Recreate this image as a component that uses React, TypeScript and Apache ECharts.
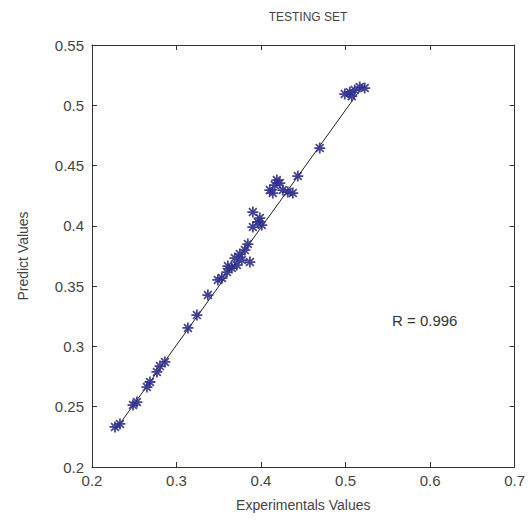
import React, { useEffect, useRef } from "react";
import * as echarts from "echarts";

const experimental = [
  0.2272, 0.2331, 0.2485, 0.2532, 0.265, 0.2686, 0.2768, 0.2804, 0.2863,
  0.3135, 0.3241, 0.3371, 0.3489, 0.3537, 0.3596, 0.3608, 0.3655, 0.369,
  0.3714, 0.3749, 0.3773, 0.3809, 0.3844, 0.3868, 0.3903, 0.3903, 0.3962,
  0.3986, 0.4009, 0.4104, 0.4139, 0.4163, 0.4187, 0.4222, 0.4258, 0.4317,
  0.4376, 0.4435, 0.4695, 0.4991, 0.505, 0.5073, 0.5109, 0.5168, 0.5227,
];
const predicted = [
  0.2332, 0.2357, 0.2514, 0.2539, 0.2663, 0.2705, 0.2788, 0.2837, 0.2871,
  0.3153, 0.326, 0.3426, 0.3551, 0.3567, 0.3617, 0.3667, 0.365, 0.3733,
  0.3675, 0.3766, 0.3716, 0.3799, 0.3849, 0.37, 0.399, 0.4114, 0.4032,
  0.4065, 0.4007, 0.4297, 0.4272, 0.4338, 0.438, 0.4355, 0.4297, 0.428,
  0.4272, 0.4413, 0.4645, 0.5093, 0.5109, 0.5076, 0.5126, 0.5151, 0.5143,
];
const fitX = [0.228, 0.52];
const fitY = [0.231, 0.5155];
const xTicks = { min: 0.2, max: 0.7, interval: 0.1 };
const yTicks = { min: 0.2, max: 0.55, interval: 0.05 };

const STAR =
  "path://M0 4.2L10 4.2L10 5.8L0 5.8Z M4.2 0L5.8 0L5.8 10L4.2 10Z M0.9 2.0L2.0 0.9L9.1 8.0L8.0 9.1Z M8.0 0.9L9.1 2.0L2.0 9.1L0.9 8.0Z";

export default function App() {
  const ref = useRef<HTMLDivElement>(null);
  useEffect(() => {
    if (!ref.current) return;
    const chart = echarts.init(ref.current, null, { renderer: "svg" });
    const font = "Liberation Sans, Arial, sans-serif";
    const axisLine = { show: true, lineStyle: { color: "#333", width: 1 } };
    const tick = { show: true, inside: true, length: 5, lineStyle: { color: "#333" } };
    const label = { color: "#444", fontSize: 15, fontFamily: font };
    chart.setOption({
      animation: false,
      backgroundColor: "#fff",
      title: {
        text: "TESTING SET",
        left: 303,
        textAlign: "center",
        top: 6,
        textStyle: { color: "#444", fontSize: 12, fontWeight: "normal", fontFamily: font },
      },
      grid: { left: 92, top: 45, width: 423, height: 422, containLabel: false },
      xAxis: [
        {
          type: "value",
          ...xTicks,
          position: "bottom",
          axisLine,
          axisTick: tick,
          splitLine: { show: false },
          axisLabel: { ...label, margin: 6 },
          name: "Experimentals Values",
          nameLocation: "middle",
          nameGap: 31,
          nameTextStyle: { color: "#444", fontSize: 14, fontFamily: font },
        },
        {
          type: "value",
          ...xTicks,
          position: "top",
          axisLine,
          axisTick: tick,
          splitLine: { show: false },
          axisLabel: { show: false },
        },
      ],
      yAxis: [
        {
          type: "value",
          ...yTicks,
          position: "left",
          axisLine,
          axisTick: tick,
          splitLine: { show: false },
          axisLabel: { ...label, margin: 8 },
          name: "Predict Values",
          nameLocation: "middle",
          nameGap: 62,
          nameRotate: 90,
          nameTextStyle: { color: "#444", fontSize: 14, fontFamily: font },
        },
        {
          type: "value",
          ...yTicks,
          position: "right",
          axisLine,
          axisTick: tick,
          splitLine: { show: false },
          axisLabel: { show: false },
        },
      ],
      series: [
        {
          type: "line",
          data: fitX.map((x, i) => [x, fitY[i]]),
          showSymbol: false,
          symbol: "none",
          lineStyle: { color: "#222", width: 1 },
          z: 1,
        },
        {
          type: "scatter",
          data: experimental.map((x, i) => [x, predicted[i]]),
          symbol: STAR,
          symbolSize: 11,
          itemStyle: { color: "#2e2e8c", opacity: 0.9 },
          z: 2,
        },
      ],
      graphic: [
        {
          type: "text",
          left: 392,
          top: 313,
          style: { text: "R = 0.996", fontSize: 15, fill: "#333", fontFamily: font },
        },
      ],
    });
    return () => chart.dispose();
  }, []);
  return (
    <div
      ref={ref}
      style={{ position: "fixed", left: 0, top: 0, width: 528, height: 521 }}
    />
  );
}
